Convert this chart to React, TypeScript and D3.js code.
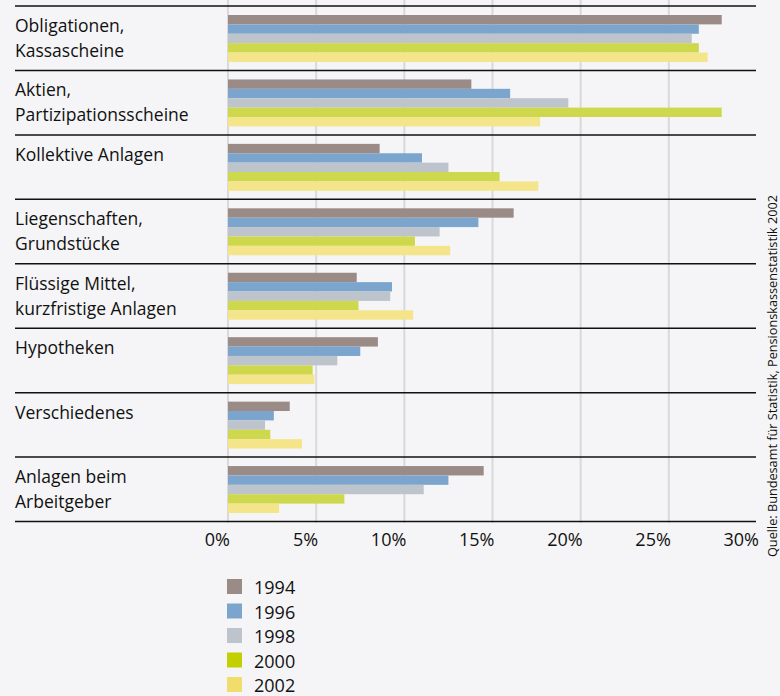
import React, { useEffect, useRef } from "react";
import * as d3 from "d3";

const categories = [
  "Obligationen,\nKassascheine",
  "Aktien,\nPartizipationsscheine",
  "Kollektive Anlagen",
  "Liegenschaften,\nGrundstücke",
  "Flüssige Mittel,\nkurzfristige Anlagen",
  "Hypotheken",
  "Verschiedenes",
  "Anlagen beim\nArbeitgeber",
];

const years = ["1994", "1996", "1998", "2000", "2002"];

const v1994 = [28.0, 13.8, 8.6, 16.2, 7.3, 8.5, 3.5, 14.5];
const v1996 = [26.7, 16.0, 11.0, 14.2, 9.3, 7.5, 2.6, 12.5];
const v1998 = [26.3, 19.3, 12.5, 12.0, 9.2, 6.2, 2.1, 11.1];
const v2000 = [26.7, 28.0, 15.4, 10.6, 7.4, 4.8, 2.4, 6.6];
const v2002 = [27.2, 17.7, 17.6, 12.6, 10.5, 4.9, 4.2, 2.9];

const tickValues = [0, 5, 10, 15, 20, 25, 30];

const colors = ["#9b8b87", "#7ba5cd", "#bec4cb", "#cdd84c", "#f4e48a"];
const legendColors = ["#9b8b87", "#7ba5cd", "#bec4cb", "#c2cf00", "#f0dd6c"];

const source = "Quelle: Bundesamt für Statistik, Pensionskassenstatistik 2002";

const W = 780;
const H = 696;
const FONT = "'Open Sans', 'Noto Sans', sans-serif";

const App = () => {
  const svgRef = useRef<SVGSVGElement | null>(null);

  useEffect(() => {
    if (!svgRef.current) return;
    const svg = d3.select(svgRef.current);
    svg.selectAll("*").remove();

    const series = [v1994, v1996, v1998, v2000, v2002];

    const x = d3.scaleLinear().domain([0, 30]).range([228, 757]);
    const y = d3
      .scaleBand<string>()
      .domain(categories)
      .range([6, 521.5])
      .paddingInner(0)
      .paddingOuter(0);
    const yInner = d3
      .scaleBand<string>()
      .domain(years)
      .range([9, y.bandwidth() - 8.5]);

    svg
      .append("rect")
      .attr("width", W)
      .attr("height", H)
      .attr("fill", "#f5f5f7");

    // vertical grid
    svg
      .append("g")
      .selectAll("line")
      .data(tickValues.filter((t) => t < 30))
      .enter()
      .append("line")
      .attr("x1", (d) => x(d))
      .attr("x2", (d) => x(d))
      .attr("y1", 0)
      .attr("y2", 523)
      .attr("stroke", "#d9d9db")
      .attr("stroke-width", 2);

    // bars + row labels
    const rows = svg
      .append("g")
      .selectAll("g")
      .data(categories)
      .enter()
      .append("g")
      .attr("transform", (d) => `translate(0,${y(d)})`);

    rows.each(function (cat, i) {
      d3.select(this)
        .selectAll("rect")
        .data(years)
        .enter()
        .append("rect")
        .attr("x", x(0))
        .attr("y", (yr) => yInner(yr) as number)
        .attr("width", (yr, j) => x(series[j][i]) - x(0))
        .attr("height", yInner.bandwidth())
        .attr("fill", (yr, j) => colors[j]);

      const lines = cat.split("\n");
      d3.select(this)
        .selectAll("text")
        .data(lines)
        .enter()
        .append("text")
        .attr("x", 15)
        .attr("y", (l, k) => 26 + k * 25)
        .attr("font-family", FONT)
        .attr("font-size", 17.5)
        .attr("fill", "#111")
        .text((l) => l);
    });

    // separators
    svg
      .append("g")
      .selectAll("line")
      .data([...categories.map((c) => y(c) as number), y.range()[1]])
      .enter()
      .append("line")
      .attr("x1", 15)
      .attr("x2", 756)
      .attr("y1", (d) => d)
      .attr("y2", (d) => d)
      .attr("stroke", "#111")
      .attr("stroke-width", 1.5);

    // axis labels
    svg
      .append("g")
      .selectAll("text")
      .data(tickValues)
      .enter()
      .append("text")
      .attr("x", (d) => x(d) + 2)
      .attr("y", 546)
      .attr("text-anchor", "end")
      .attr("font-family", FONT)
      .attr("font-size", 18)
      .attr("fill", "#111")
      .text((d) => `${d}%`);

    // legend
    const legend = svg
      .append("g")
      .selectAll("g")
      .data(years)
      .enter()
      .append("g")
      .attr("transform", (d, i) => `translate(227,${579 + i * 24.5})`);
    legend
      .append("rect")
      .attr("width", 15)
      .attr("height", 15)
      .attr("fill", (d, i) => legendColors[i]);
    legend
      .append("text")
      .attr("x", 27)
      .attr("y", 15)
      .attr("font-family", FONT)
      .attr("font-size", 18)
      .attr("fill", "#111")
      .text((d) => d);

    // source
    svg
      .append("text")
      .attr("transform", "translate(777,557) rotate(-90)")
      .attr("font-family", FONT)
      .attr("font-size", 12.7)
      .attr("fill", "#111")
      .text(source);
  }, []);

  return (
    <div style={{ position: "absolute", left: 0, top: 0 }}>
      <svg ref={svgRef} width={W} height={H} style={{ display: "block" }} />
    </div>
  );
};

export default App;
